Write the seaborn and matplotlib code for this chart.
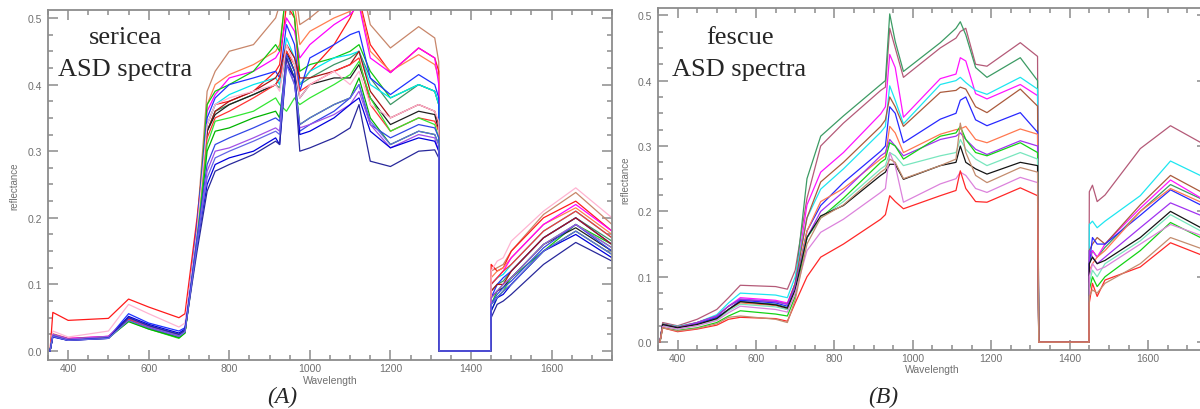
import pandas as pd
import matplotlib.pyplot as plt
import seaborn as sns
from matplotlib.ticker import MultipleLocator, FormatStrFormatter

sns.set_style('ticks')
plt.rcParams['font.family'] = ['Liberation Sans', 'DejaVu Sans']

# ---- sericea (panel A): wavelength knots, one list per spectrum ----
sericea_wl = [355, 362, 400, 500, 550, 600, 675, 690, 720, 745,
              765, 800, 860, 915, 925, 942, 962, 975, 1000, 1060, 1100, 1122, 1150, 1200, 1270, 1310, 1320,
              1321, 1449,
              1450, 1465, 1480, 1500, 1580, 1660, 1750]

s_brown = [0, .024, .017, .021, .046, .035, .021, .028, .19, .39,
           .42, .45, .46, .50, .52, .58, .55, .49, .50, .53, .55, .57, .49, .455, .487, .47, .434,
           0, 0, .12, .125, .13, .15, .205, .238, .19]
s_red = [0, .058, .046, .049, .078, .066, .05, .056, .20, .34,
         .37, .375, .39, .42, .43, .52, .50, .40, .42, .46, .50, .53, .46, .418, .455, .44, .42,
         0, 0, .13, .12, .125, .15, .20, .225, .18]
s_coral = [0, .026, .019, .022, .05, .038, .023, .03, .18, .37,
           .40, .415, .43, .45, .46, .54, .52, .46, .48, .50, .51, .525, .45, .42, .445, .43, .41,
           0, 0, .11, .12, .125, .14, .19, .215, .175]
s_magenta = [0, .025, .019, .022, .05, .037, .022, .03, .18, .36,
             .385, .41, .42, .44, .45, .50, .48, .44, .46, .49, .505, .52, .44, .418, .455, .44, .40,
             0, 0, .10, .11, .12, .14, .19, .22, .18]
s_green = [0, .024, .018, .02, .046, .034, .02, .028, .18, .37,
           .39, .40, .42, .46, .45, .55, .50, .42, .43, .44, .45, .46, .42, .38, .40, .39, .37,
           0, 0, .07, .09, .10, .11, .15, .19, .16]
s_seagreen = [0, .025, .018, .021, .048, .036, .022, .029, .17, .33,
              .36, .37, .385, .40, .395, .45, .42, .40, .41, .43, .44, .45, .41, .37, .40, .39, .37,
              0, 0, .09, .10, .105, .12, .17, .20, .165]
s_cyan = [0, .025, .018, .021, .05, .037, .022, .029, .17, .34,
          .37, .385, .40, .41, .40, .47, .44, .40, .42, .44, .445, .45, .40, .38, .40, .39, .37,
          0, 0, .10, .11, .115, .13, .18, .21, .17]
s_blue = [0, .022, .016, .02, .056, .042, .03, .035, .19, .35,
          .38, .40, .41, .42, .41, .49, .46, .39, .44, .46, .475, .48, .41, .385, .415, .40, .38,
          0, 0, .08, .10, .11, .12, .17, .20, .16]
s_darkred = [0, .024, .018, .021, .047, .035, .021, .028, .17, .33,
             .36, .375, .39, .41, .42, .46, .44, .41, .41, .42, .43, .45, .39, .35, .37, .36, .34,
             0, 0, .09, .10, .10, .12, .17, .20, .16]
s_black = [0, .024, .017, .02, .046, .035, .021, .028, .17, .33,
           .355, .37, .385, .40, .41, .45, .42, .38, .40, .41, .41, .43, .38, .34, .36, .355, .33,
           0, 0, .08, .09, .095, .11, .16, .185, .15]
s_red2 = [0, .025, .018, .021, .048, .036, .022, .028, .18, .32,
          .35, .36, .38, .40, .41, .45, .43, .39, .40, .42, .43, .44, .37, .33, .35, .345, .33,
          0, 0, .10, .11, .12, .13, .18, .21, .17]
s_pink = [0, .03, .021, .03, .07, .056, .036, .042, .18, .34,
          .37, .38, .39, .40, .39, .46, .43, .38, .40, .42, .40, .42, .37, .35, .37, .36, .345,
          0, 0, .12, .135, .14, .165, .21, .245, .20]
s_lime = [0, .023, .017, .019, .045, .033, .019, .027, .17, .31,
          .345, .35, .36, .38, .37, .36, .38, .37, .38, .40, .415, .435, .38, .33, .35, .34, .32,
          0, 0, .06, .08, .09, .11, .16, .19, .155]
s_green3 = [0, .023, .017, .02, .044, .033, .02, .027, .16, .30,
            .33, .335, .35, .36, .35, .44, .41, .34, .35, .37, .38, .41, .35, .31, .33, .325, .31,
            0, 0, .07, .08, .09, .10, .15, .18, .145]
s_blue2 = [0, .023, .017, .02, .05, .038, .025, .031, .17, .28,
           .31, .32, .335, .35, .345, .445, .42, .33, .34, .36, .38, .40, .34, .32, .34, .335, .32,
           0, 0, .07, .085, .095, .105, .155, .19, .15]
s_violet = [0, .025, .018, .022, .05, .037, .022, .029, .16, .27,
            .30, .305, .32, .335, .33, .44, .40, .335, .34, .355, .37, .39, .34, .305, .325, .32, .30,
            0, 0, .08, .09, .10, .11, .16, .19, .155]
s_blue3 = [0, .021, .016, .019, .052, .04, .027, .033, .16, .25,
           .28, .29, .30, .32, .31, .43, .41, .325, .33, .35, .37, .38, .33, .305, .32, .315, .30,
           0, 0, .06, .08, .085, .10, .15, .175, .14]
s_navy = [0, .022, .016, .019, .05, .038, .025, .031, .15, .24,
          .27, .28, .295, .315, .31, .44, .41, .30, .305, .32, .335, .37, .285, .277, .30, .302, .29,
          0, 0, .05, .07, .075, .085, .13, .163, .135]
s_slate = [0, .022, .016, .019, .046, .035, .022, .029, .16, .26,
           .29, .30, .315, .33, .325, .43, .40, .34, .35, .37, .38, .40, .345, .31, .33, .325, .31,
           0, 0, .07, .08, .09, .10, .15, .18, .145]

sericea_lines = {'brown': s_brown, 'red': s_red, 'coral': s_coral, 'magenta': s_magenta,
                 'green': s_green, 'seagreen': s_seagreen, 'cyan': s_cyan, 'blue': s_blue,
                 'darkred': s_darkred, 'black': s_black, 'red2': s_red2, 'pink': s_pink,
                 'lime': s_lime, 'green3': s_green3, 'blue2': s_blue2, 'violet': s_violet,
                 'blue3': s_blue3, 'navy': s_navy, 'slate': s_slate}
sericea_colors = {'brown': '#c8866a', 'red': '#ff1a1a', 'coral': '#ff7f50', 'magenta': '#ff00ff',
                  'green': '#10c810', 'seagreen': '#3c9664', 'cyan': '#00e5ee', 'blue': '#1e32ff',
                  'darkred': '#a81414', 'black': '#202020', 'red2': '#ff3232', 'pink': '#ffb4d2',
                  'lime': '#32e632', 'green3': '#00b400', 'blue2': '#3246e6', 'violet': '#a050e6',
                  'blue3': '#0000dc', 'navy': '#28289b', 'slate': '#6464e6'}

# ---- fescue (panel B) ----
fescue_wl = [355, 362, 400, 450, 500, 530, 560, 650, 680, 700, 730,
             765, 823, 918, 930, 941, 955, 976, 1070, 1110, 1121, 1135, 1160, 1189, 1274, 1318,
             1321, 1449,
             1450, 1458, 1470, 1490, 1580, 1657, 1750]

f_rosy = [0, .03, .025, .035, .05, .068, .087, .085, .081, .11, .22,
          .30, .335, .385, .39, .48, .45, .405, .45, .465, .475, .48, .425, .422, .458, .437,
          0, 0, .23, .24, .215, .225, .296, .331, .30]
f_seagreen = [0, .026, .021, .028, .037, .05, .062, .058, .053, .09, .25,
              .315, .346, .394, .40, .502, .46, .414, .458, .48, .49, .47, .42, .405, .435, .40,
              0, 0, .12, .14, .13, .145, .20, .241, .215]
f_magenta = [0, .027, .022, .03, .04, .055, .068, .064, .06, .09, .21,
             .26, .29, .349, .36, .44, .42, .344, .403, .41, .435, .43, .38, .372, .394, .377,
             0, 0, .13, .14, .13, .15, .205, .248, .215]
f_cyan = [0, .028, .024, .03, .042, .06, .075, .072, .068, .10, .19,
          .234, .265, .321, .33, .392, .37, .334, .394, .40, .405, .397, .385, .379, .405, .387,
          0, 0, .18, .185, .175, .185, .224, .277, .25]
f_brown = [0, .028, .023, .03, .04, .055, .065, .062, .058, .09, .19,
           .245, .275, .33, .34, .375, .36, .33, .382, .385, .39, .387, .36, .351, .387, .361,
           0, 0, .14, .15, .16, .15, .21, .255, .225]
f_blue = [0, .027, .022, .028, .038, .05, .064, .06, .055, .085, .17,
          .209, .244, .292, .30, .36, .35, .305, .341, .35, .37, .375, .34, .331, .351, .321,
          0, 0, .12, .16, .15, .15, .194, .233, .205]
f_orange = [0, .026, .021, .027, .035, .05, .06, .056, .05, .08, .17,
            .215, .235, .28, .285, .33, .32, .29, .318, .325, .326, .33, .31, .305, .326, .318,
            0, 0, .11, .12, .13, .14, .20, .235, .21]
f_purple = [0, .027, .022, .03, .04, .055, .066, .062, .058, .085, .16,
            .20, .23, .285, .29, .31, .30, .285, .31, .315, .32, .31, .295, .287, .308, .30,
            0, 0, .14, .13, .12, .13, .175, .213, .19]
f_green = [0, .022, .018, .022, .03, .04, .048, .043, .04, .07, .16,
           .19, .22, .275, .28, .305, .30, .28, .315, .32, .33, .31, .29, .285, .305, .29,
           0, 0, .08, .10, .085, .10, .14, .183, .155]
f_aqua = [0, .025, .02, .026, .034, .048, .058, .054, .05, .08, .16,
          .19, .215, .265, .27, .29, .285, .27, .285, .29, .31, .295, .28, .27, .29, .28,
          0, 0, .09, .11, .10, .12, .155, .195, .165]
f_black = [0, .027, .022, .027, .036, .05, .062, .057, .052, .08, .16,
           .193, .209, .255, .26, .272, .272, .249, .27, .275, .30, .275, .265, .257, .275, .27,
           0, 0, .12, .13, .12, .125, .16, .20, .17]
f_plum = [0, .024, .02, .025, .033, .045, .055, .05, .046, .075, .14,
          .168, .188, .229, .235, .29, .27, .214, .242, .25, .26, .255, .235, .229, .252, .244,
          0, 0, .10, .12, .11, .115, .15, .18, .16]
f_red = [0, .022, .016, .02, .026, .035, .038, .036, .032, .06, .10,
         .13, .15, .188, .195, .224, .215, .204, .224, .232, .262, .235, .215, .214, .236, .224,
         0, 0, .06, .09, .07, .095, .115, .152, .13]
f_tan = [0, .022, .017, .021, .028, .038, .04, .035, .03, .065, .15,
         .19, .21, .26, .265, .28, .275, .25, .27, .28, .335, .29, .255, .244, .267, .26,
         0, 0, .07, .08, .075, .09, .12, .16, .14]

fescue_lines = {'rosy': f_rosy, 'seagreen': f_seagreen, 'magenta': f_magenta, 'cyan': f_cyan,
                'brown': f_brown, 'blue': f_blue, 'orange': f_orange, 'purple': f_purple,
                'green': f_green, 'aqua': f_aqua, 'black': f_black, 'plum': f_plum,
                'red': f_red, 'tan': f_tan}
fescue_colors = {'rosy': '#b45a78', 'seagreen': '#3c9b64', 'magenta': '#ff14ff', 'cyan': '#1ee6f0',
                 'brown': '#aa5a3c', 'blue': '#2828ff', 'orange': '#ff7850', 'purple': '#a032f0',
                 'green': '#14d214', 'aqua': '#78e6be', 'black': '#141414', 'plum': '#dc82dc',
                 'red': '#ff2828', 'tan': '#c38c6e'}


def long_table(wl, lines):
    rows = []
    for name, vals in lines.items():
        assert len(vals) == len(wl), name
        for w, r in zip(wl, vals):
            rows.append((name, w, r))
    return pd.DataFrame(rows, columns=['sample', 'wavelength', 'reflectance'])


def style_axes(ax, ylim):
    ax.set_xlim(350, 1750)
    ax.set_ylim(*ylim)
    ax.xaxis.set_major_locator(MultipleLocator(200))
    ax.xaxis.set_minor_locator(MultipleLocator(50))
    ax.yaxis.set_major_locator(MultipleLocator(0.1))
    ax.yaxis.set_minor_locator(MultipleLocator(0.025))
    ax.yaxis.set_major_formatter(FormatStrFormatter('%.1f'))
    ax.tick_params(which='both', direction='in', top=True, right=True,
                   color='#8c8c8c', labelcolor='#707070', labelsize=7.5, width=1.1)
    ax.tick_params(which='major', length=7)
    ax.tick_params(which='minor', length=3.5)
    ax.tick_params(axis='x', pad=2)
    ax.tick_params(axis='y', pad=4)
    for sp in ax.spines.values():
        sp.set_color('#8c8c8c')
        sp.set_linewidth(1.3)
    ax.set_xlabel('Wavelength', fontsize=7.5, color='#707070')
    ax.set_ylabel('reflectance', fontsize=7, color='#707070')
    ax.xaxis.set_label_coords(0.5, -0.042)
    ax.yaxis.set_label_coords(-0.051, 0.5)


fig = plt.figure(figsize=(12, 4.1), dpi=100)
ax1 = fig.add_axes([0.04, 0.1195, 0.47, 0.8537])
ax2 = fig.add_axes([0.5483, 0.1439, 0.4575, 0.8341])

for ax, wl, lines, colors, ylim in [
        (ax1, sericea_wl, sericea_lines, sericea_colors, (-0.0135, 0.512)),
        (ax2, fescue_wl, fescue_lines, fescue_colors, (-0.012, 0.511))]:
    df = long_table(wl, lines)
    sns.lineplot(data=df, x='wavelength', y='reflectance', hue='sample',
                 hue_order=list(lines), palette=colors, estimator=None, sort=False,
                 legend=False, linewidth=0.9, ax=ax)
    style_axes(ax, ylim)

serif = ['Liberation Serif', 'DejaVu Serif']
fig.text(126 / 1200, 1 - 38 / 410, 'sericea', family=serif, fontsize=19, ha='center', va='center')
fig.text(125.5 / 1200, 1 - 70 / 410, 'ASD spectra', family=serif, fontsize=19, ha='center', va='center')
fig.text(740 / 1200, 1 - 38 / 410, 'fescue', family=serif, fontsize=19, ha='center', va='center')
fig.text(739.5 / 1200, 1 - 70 / 410, 'ASD spectra', family=serif, fontsize=19, ha='center', va='center')
fig.text(282 / 1200, 1 - 397 / 410, '(A)', family=serif, style='italic', fontsize=17, ha='center', va='center')
fig.text(883 / 1200, 1 - 397 / 410, '(B)', family=serif, style='italic', fontsize=17, ha='center', va='center')

fig.savefig('out.png', dpi=100)
